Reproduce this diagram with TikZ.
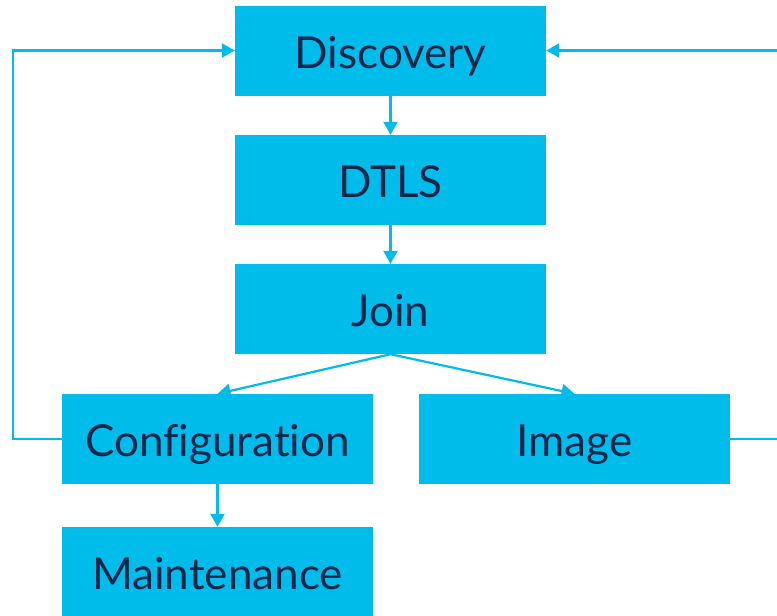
\documentclass[tikz,border=0pt]{standalone}
\usepackage{fontspec}
\setmainfont{Lato}[Ligatures=NoCommon]
\usetikzlibrary{arrows.meta}
\definecolor{boxcyan}{HTML}{00BCEB}
\definecolor{textnavy}{HTML}{0D274D}
\tikzset{
  stage/.style={fill=boxcyan, draw=none, minimum width=311pt, minimum height=90pt,
    inner sep=0pt, text height=35pt, text depth=0pt, text=textnavy,
    font=\fontsize{44}{48}\selectfont},
  flow/.style={draw=boxcyan, line width=2.2pt, -{Triangle[length=13pt,width=14pt]}},
  flowline/.style={draw=boxcyan, line width=2.2pt}
}
\begin{document}
\begin{tikzpicture}[x=1pt,y=-1pt]
  \useasboundingbox (0,0) rectangle (777,616);
  % stages of the join process
  \node[stage] (disc)  at (390.5,50.5)  {Discovery};
  \node[stage] (dtls)  at (390.5,180)   {DTLS};
  \node[stage] (join)  at (390.5,309)   {Join};
  \node[stage] (conf)  at (217.5,439)   {Configuration};
  \node[stage] (image) at (574.5,439)   {Image};
  \node[stage, minimum height=89pt] (maint) at (217.5,571.5) {Maintenance};
  % main sequence
  \draw[flow] (disc) -- (dtls);
  \draw[flow] (dtls) -- (join);
  \draw[flow] (join.south) -- (conf.north);
  \draw[flow] (join.south) -- (image.north);
  \draw[flow] (conf) -- (maint);
  % return from configuration to discovery
  \coordinate (lcorner) at (13,439);
  \draw[flow] (conf.west) -- (lcorner) -- (lcorner |- disc.west) -- (disc.west);
  % return from image to discovery, running along the right edge
  \coordinate (rlow) at (777,439);
  \coordinate (rtop) at (777,50.5);
  \draw[flowline] (image.east) -- (rlow);
  \draw[flow] (rtop) -- (disc.east);
\end{tikzpicture}
\end{document}
